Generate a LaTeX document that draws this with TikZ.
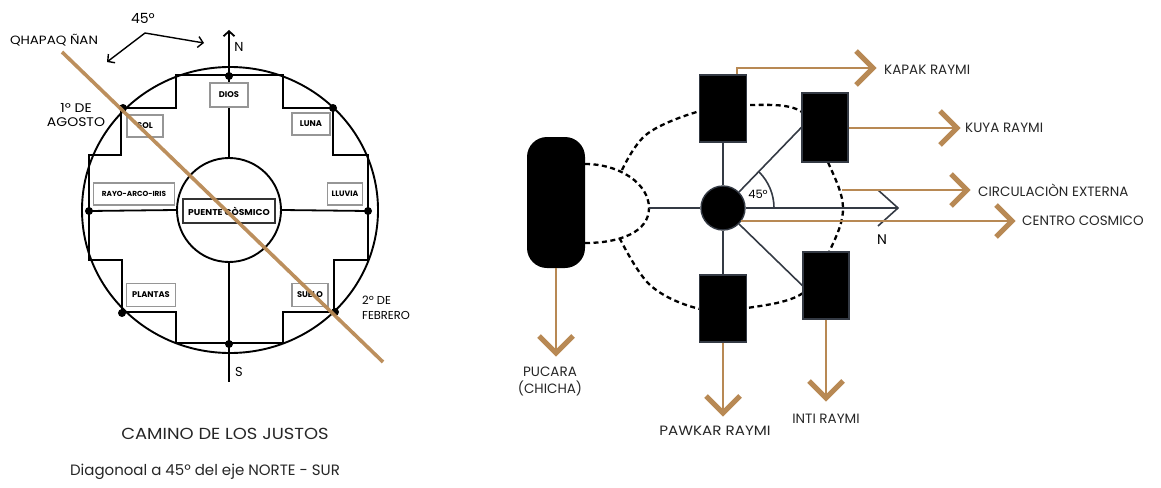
\documentclass[tikz,border=0pt]{standalone}
\usepackage{fontspec}
\setmainfont{Poppins}
\newfontfamily\widefont[FakeStretch=1.12]{Poppins}
\newfontfamily\wideb[FakeStretch=1.08]{Poppins}
\usetikzlibrary{arrows.meta,shapes.geometric}
\definecolor{brn}{RGB}{184,137,84}
\definecolor{dk}{RGB}{52,58,68}
\definecolor{gb}{RGB}{150,150,150}
\newcommand{\fs}[1]{\fontsize{#1}{#1}\selectfont}
\newcommand{\fsb}[2]{\fontsize{#1}{#2}\selectfont}
\begin{document}
\begin{tikzpicture}[x=1pt,y=-1pt,
  ln/.style={line width=1.8pt, black},
  dot/.style={circle, fill=black, inner sep=0pt, minimum size=8pt},
  lbl/.style={draw=gb, line width=1.4pt, fill=white, font=\bfseries\fs{8.3}, inner sep=0pt, minimum height=22pt},
  txt/.style={font=\fs{11}, inner sep=0pt},
  captxt/.style={font=\fs{14}, inner sep=0pt, text=black!85},
  dl/.style={line width=1.6pt, dk},
  dsh/.style={line width=2.3pt, black, dash pattern=on 5pt off 3.5pt},
  blk/.style={draw=dk, line width=1.4pt, fill=black, inner sep=0pt},
  bl/.style={line width=2pt, brn},
  chv/.style={line width=5pt, brn, line join=miter},
  rt/.style={font=\fs{13.5}, inner sep=0pt, text=black!85}
]
\useasboundingbox (0,0) rectangle (1161,487);
% ---------------- LEFT DIAGRAM ----------------
\node[ellipse, draw, line width=1.9pt, minimum width=296pt, minimum height=286pt, inner sep=0pt] (outer) at (230,210) {};
\draw[ln, line join=miter] (176,75) -- (283,75) -- (283,108) -- (333,108) -- (333,155) -- (368,155) -- (368,260) -- (334,260) -- (334,312) -- (283,312) -- (283,343) -- (176,343) -- (176,312) -- (122,312) -- (122,260) -- (89,260) -- (89,155) -- (121,155) -- (121,108) -- (176,108) -- cycle;
\node[circle, draw, line width=1.9pt, minimum size=104pt, inner sep=0pt] (inner) at (229,210) {};
\coordinate (nTip) at (229,30);
\coordinate (sEnd) at (229,382);
\node[dot] (dN) at (229,76) {};
\node[dot] (dS) at (229,344) {};
\node[dot] (dW) at (89,211) {};
\node[dot] (dE) at (368,211) {};
\node[dot] (dNW) at (123,108) {};
\node[dot] (dNE) at (333,108) {};
\node[dot] (dSW) at (122,313) {};
\node[dot] (dSE) at (335,312) {};
\draw[ln, -{Straight Barb[length=5pt,width=11pt]}] (inner.north) -- (nTip);
\draw[ln] (inner.south) -- (sEnd);
\draw[ln] (dW.center) -- (inner.west);
\draw[ln] (inner.east) -- (dE.center);
\node[lbl, minimum width=38pt, minimum height=24pt] (dios) at (229,95) {DIOS};
\node[lbl, minimum width=36pt] (sol) at (145,126) {SOL};
\node[lbl, minimum width=38pt] (luna) at (311,124) {LUNA};
\node[lbl, minimum width=81pt, font=\bfseries\fs{7.3}] (rayo) at (134,194) {RAYO-ARCO-IRIS};
\node[lbl, minimum width=35pt, font=\bfseries\fs{7.8}] (lluvia) at (345,194) {LLUVIA};
\node[lbl, draw=black!80, minimum width=92pt, minimum height=24pt, font=\wideb\bfseries\fs{8.5}] (puente) at (229,211) {PUENTE CÒSMICO};
\node[lbl, minimum width=49pt, minimum height=23pt] (plantas) at (151,295) {PLANTAS};
\node[lbl, minimum width=36pt, minimum height=23pt] (suelo) at (310,295) {SUELO};
\coordinate (qS) at (62,52);
\coordinate (qE) at (383,362);
\draw[line width=3.6pt, brn, opacity=0.95] (qS) -- (qE);
\coordinate (a1) at (107,62);
\coordinate (a2) at (145,33);
\coordinate (a3) at (204,43);
\draw[line width=1.4pt, {Straight Barb[length=5pt,width=11pt]}-{Straight Barb[length=5pt,width=11pt]}] (a1) -- (a2) -- (a3);
\node[txt, font=\widefont\fs{12}] (qn) at (54,40) {QHAPAQ ÑAN};
\node[txt, font=\fs{14}] (ang) at (143,18) {45º};
\node[txt, font=\fs{13}] (nl) at (239,47) {N};
\node[txt, font=\fs{13}] (sl) at (239,372) {S};
\node[txt, align=center, font=\widefont\fsb{12.5}{14}] (ago) at (76,115) {1º DE\\AGOSTO};
\node[txt, align=left, anchor=west, font=\fsb{11.5}{15}] (feb) at (362,308) {2º DE\\FEBRERO};
\node[captxt, font=\widefont\fs{16}] (t1) at (225,434) {CAMINO DE LOS JUSTOS};
\node[captxt, font=\fs{15}] (t2) at (205,472) {Diagonoal a 45º del eje NORTE - SUR};
% ---------------- RIGHT DIAGRAM ----------------
\draw[dsh] plot[smooth, tension=0.6] coordinates {(622,170) (647,134) (700,111) (747,105) (802,112) (827,160) (843,207) (830,250) (803,293) (747,308) (700,309) (650,285) (618,235)};
\coordinate (lens) at (649,208);
\draw[dsh] (585,164) .. controls (620,164) and (649,184) .. (lens);
\draw[dsh] (585,243) .. controls (620,243) and (649,232) .. (lens);
\node[fill=black, rounded corners=20pt, minimum width=58pt, minimum height=131pt, inner sep=0pt] (puc) at (556,202.5) {};
\node[circle, fill=black, draw=dk, line width=1.4pt, minimum size=44pt, inner sep=0pt] (hub) at (723,208) {};
\node[blk, minimum width=47pt, minimum height=67pt] (kapak) at (723,108.5) {};
\node[blk, minimum width=46pt, minimum height=69pt] (kuya) at (825,127.5) {};
\node[blk, minimum width=47pt, minimum height=67pt] (pawkar) at (723,308.5) {};
\node[blk, minimum width=46pt, minimum height=67pt] (inti) at (826,285.5) {};
\draw[dl] (hub.north) -- (hub.north |- kapak.south);
\draw[dl] (hub.south) -- (hub.south |- pawkar.north);
\draw[dl] (hub.45) -- (kuya.west);
\draw[dl] (hub.-45) -- (inti.west);
\draw[dl] (lens) -- (hub.west);
\coordinate (nR) at (898,208);
\draw[dl] (hub.east) -- (nR);
\draw[dl] ([shift={(-20,-18)}]nR) -- (nR) -- ([shift={(-20,18)}]nR);
\draw[dl] ([shift={(51,0)}]hub.center) arc[start angle=0, end angle=-45, radius=51];
\node[txt, font=\fs{11.5}] (a45) at (758,194) {45º};
\node[txt, font=\fs{14}] (nR2) at (882,240) {N};
% brown arrows
\coordinate (kapTip) at (873,68);
\coordinate (kuyTip) at (957,128);
\coordinate (circS) at (842,190);
\coordinate (circTip) at (967,190);
\coordinate (cenTip) at (1012,221);
\coordinate (pucTip) at (556,353);
\coordinate (pawTip) at (723,413);
\coordinate (intTip) at (826,398);
\draw[bl] ([xshift=14pt]kapak.north) |- (kapTip);
\draw[bl] (kuya.east |- kuyTip) -- (kuyTip);
\draw[bl] (circS) -- (circTip);
\draw[bl] (hub.-36) -- (hub.-36 -| cenTip);
\draw[bl] (puc.south) -- (pucTip);
\draw[bl] (pawkar.south) -- (pawTip);
\draw[bl] (inti.south) -- (intTip);
\draw[chv] ([shift={(-17,-17)}]kapTip) -- (kapTip) -- ([shift={(-17,17)}]kapTip);
\draw[chv] ([shift={(-17,-17)}]kuyTip) -- (kuyTip) -- ([shift={(-17,17)}]kuyTip);
\draw[chv] ([shift={(-16,-16)}]circTip) -- (circTip) -- ([shift={(-16,16)}]circTip);
\draw[chv] ([shift={(-16,-16)}]cenTip) -- (cenTip) -- ([shift={(-16,16)}]cenTip);
\draw[chv] ([shift={(-17,-17)}]pucTip) -- (pucTip) -- ([shift={(17,-17)}]pucTip);
\draw[chv] ([shift={(-17,-17)}]pawTip) -- (pawTip) -- ([shift={(17,-17)}]pawTip);
\draw[chv] ([shift={(-17,-17)}]intTip) -- (intTip) -- ([shift={(17,-17)}]intTip);
\node[rt, anchor=west] (lkap) at (884,70) {KAPAK RAYMI};
\node[rt, anchor=west] (lkuy) at (965,128) {KUYA RAYMI};
\node[rt, anchor=west] (lcir) at (978,190) {CIRCULACIÒN EXTERNA};
\node[rt, anchor=west] (lcen) at (1022,221) {CENTRO COSMICO};
\node[rt, align=center, font=\fsb{13.5}{17}] (lpuc) at (550,381) {PUCARA\\(CHICHA)};
\node[rt, font=\widefont\fs{13.5}] (lpaw) at (715,431) {PAWKAR RAYMI};
\node[rt] (lint) at (826,419) {INTI RAYMI};
\end{tikzpicture}
\end{document}
